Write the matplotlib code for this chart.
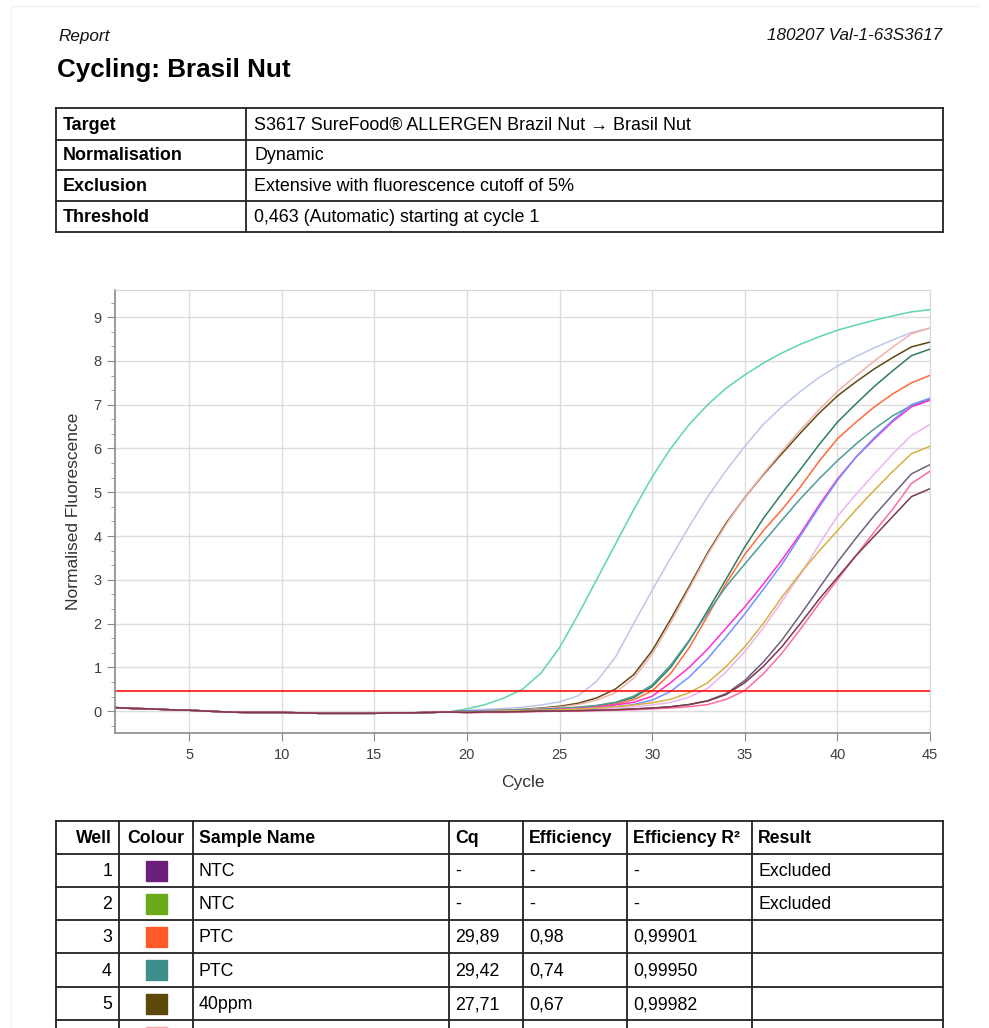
import matplotlib
matplotlib.use("Agg")
from matplotlib import pyplot as plt
from matplotlib.patches import Rectangle
from matplotlib.ticker import MultipleLocator

plt.rcParams['font.family'] = ['Liberation Sans', 'DejaVu Sans']

# ---- data ----
info_keys = ["Target", "Normalisation", "Exclusion", "Threshold"]
info_vals = ["S3617 SureFood\u00ae ALLERGEN Brazil Nut \u2192 Brasil Nut",
             "Dynamic",
             "Extensive with fluorescence cutoff of 5%",
             "0,463 (Automatic) starting at cycle 1"]

threshold = 0.463
cycles = list(range(1, 46))

# cycles 1-19, shared flat baseline
early = [0.08, 0.06, 0.05, 0.03, 0.02, 0.0, -0.02, -0.03, -0.03, -0.03,
         -0.04, -0.05, -0.05, -0.05, -0.05, -0.04, -0.04, -0.03, -0.02]

# cycles 20-45 per curve
mint = [0.05, 0.15, 0.3, 0.5, 0.87, 1.45, 2.2, 3.0, 3.8, 4.6, 5.35, 6.0, 6.55,
        7.0, 7.38, 7.68, 7.95, 8.18, 8.38, 8.55, 8.7, 8.82, 8.93, 9.03, 9.12, 9.17]
lavender = [0.02, 0.04, 0.06, 0.09, 0.14, 0.21, 0.35, 0.68, 1.22, 2.0, 2.76, 3.5, 4.22,
            4.9, 5.5, 6.05, 6.55, 6.95, 7.3, 7.62, 7.88, 8.1, 8.3, 8.48, 8.65, 8.75]
brown = [0.0, 0.01, 0.02, 0.04, 0.07, 0.11, 0.18, 0.3, 0.5, 0.83, 1.38, 2.1, 2.85,
         3.62, 4.3, 4.88, 5.4, 5.88, 6.35, 6.8, 7.2, 7.52, 7.82, 8.08, 8.32, 8.43]
salmon = [-0.01, 0.0, 0.01, 0.03, 0.06, 0.09, 0.15, 0.25, 0.42, 0.75, 1.3, 2.02, 2.8,
          3.58, 4.27, 4.88, 5.42, 5.93, 6.42, 6.88, 7.3, 7.66, 8.0, 8.32, 8.62, 8.75]
dkgreen = [0.0, 0.0, 0.01, 0.02, 0.04, 0.06, 0.08, 0.12, 0.19, 0.31, 0.56, 1.0, 1.6,
           2.3, 3.02, 3.75, 4.4, 4.97, 5.52, 6.08, 6.6, 7.02, 7.42, 7.78, 8.12, 8.27]
orange = [0.0, 0.0, 0.01, 0.01, 0.03, 0.05, 0.07, 0.1, 0.16, 0.26, 0.46, 0.86, 1.45,
          2.18, 2.92, 3.58, 4.12, 4.6, 5.12, 5.7, 6.22, 6.6, 6.95, 7.25, 7.5, 7.67]
teal = [0.0, 0.0, 0.01, 0.02, 0.04, 0.06, 0.09, 0.13, 0.2, 0.34, 0.6, 1.05, 1.62,
        2.25, 2.85, 3.36, 3.86, 4.36, 4.85, 5.3, 5.72, 6.1, 6.45, 6.75, 6.98, 7.12]
magenta = [-0.02, -0.01, 0.0, 0.01, 0.02, 0.04, 0.06, 0.09, 0.14, 0.2, 0.34, 0.65, 1.0,
           1.42, 1.9, 2.38, 2.9, 3.45, 4.05, 4.7, 5.3, 5.8, 6.22, 6.62, 6.95, 7.1]
blue = [0.0, 0.0, 0.01, 0.01, 0.02, 0.03, 0.05, 0.07, 0.1, 0.15, 0.25, 0.45, 0.78,
        1.2, 1.7, 2.22, 2.78, 3.35, 4.0, 4.65, 5.27, 5.8, 6.25, 6.65, 7.0, 7.15]
violet = [-0.03, -0.02, -0.01, 0.0, 0.01, 0.02, 0.03, 0.05, 0.07, 0.1, 0.14, 0.2, 0.32,
          0.52, 0.9, 1.36, 1.9, 2.5, 3.12, 3.8, 4.45, 4.95, 5.42, 5.88, 6.3, 6.55]
yellow = [-0.02, -0.01, 0.0, 0.01, 0.02, 0.03, 0.05, 0.07, 0.1, 0.14, 0.19, 0.27, 0.42,
          0.65, 1.02, 1.47, 2.0, 2.6, 3.15, 3.65, 4.12, 4.6, 5.05, 5.48, 5.88, 6.05]
grey = [-0.03, -0.02, -0.02, -0.01, 0.0, 0.0, 0.01, 0.02, 0.03, 0.05, 0.07, 0.1, 0.15,
        0.24, 0.4, 0.7, 1.12, 1.62, 2.2, 2.8, 3.4, 3.95, 4.47, 4.95, 5.42, 5.63]
pink = [-0.04, -0.03, -0.03, -0.02, -0.01, 0.0, 0.0, 0.01, 0.02, 0.03, 0.05, 0.07, 0.1,
        0.15, 0.27, 0.47, 0.85, 1.32, 1.87, 2.45, 3.0, 3.55, 4.1, 4.62, 5.2, 5.48]
maroon = [-0.03, -0.02, -0.02, -0.01, 0.0, 0.0, 0.01, 0.02, 0.03, 0.05, 0.07, 0.1, 0.15,
          0.23, 0.38, 0.65, 1.02, 1.47, 2.0, 2.55, 3.05, 3.55, 4.0, 4.45, 4.9, 5.08]

curves = [mint, lavender, brown, salmon, dkgreen, orange, teal, magenta, blue,
          violet, yellow, grey, pink, maroon]
curve_colors = ['#5ed6a8', '#bcc6ea', '#5e4a12', '#f2b2aa', '#2e7d5c', '#ff6a3a',
                '#4e9c9a', '#ff30d0', '#7094ff', '#ecb4f2', '#d8b040', '#6e6080',
                '#ff6aa0', '#7a3a4a']

headers = ["Well", "Colour", "Sample Name", "Cq", "Efficiency", "Efficiency R\u00b2", "Result"]
wells = ["1", "2", "3", "4", "5", ""]
well_colors = ['#6d1f7c', '#6aaa18', '#ff5a28', '#3e8e8c', '#5c4808', '#f4a8a8']
samples = ["NTC", "NTC", "PTC", "PTC", "40ppm", ""]
cq = ["-", "-", "29,89", "29,42", "27,71", ""]
eff = ["-", "-", "0,98", "0,74", "0,67", ""]
eff_r2 = ["-", "-", "0,99901", "0,99950", "0,99982", ""]
result = ["Excluded", "Excluded", "", "", "", ""]

# ---- page ----
W, H = 989, 1028
fig = plt.figure(figsize=(W / 100, H / 100), dpi=100)
page = fig.add_axes([0, 0, 1, 1])
page.set_xlim(0, W)
page.set_ylim(H, 0)
page.axis('off')

page.plot([11, 11], [6, H], color='#f3f3f3', lw=1)
page.plot([11, 980], [6, 6], color='#f3f3f3', lw=1)

page.text(58, 36, "Report", fontsize=12.3, style='italic', va='center', color='#111')
page.text(942, 36, "180207 Val-1-63S3617", fontsize=12.3, style='italic',
          va='center', ha='right', color='#111')
page.text(57, 70, "Cycling: Brasil Nut", fontsize=18.7, fontweight='bold',
          va='center', color='black')

# info table
rows_y = [108, 140, 170, 201, 232]
for y in rows_y:
    page.plot([56, 943], [y, y], color='#222', lw=1.3)
for x in [56, 246, 943]:
    page.plot([x, x], [108, 232], color='#222', lw=1.3)
for i in range(4):
    yc = (rows_y[i] + rows_y[i + 1]) / 2 + 1
    page.text(63, yc, info_keys[i], fontsize=12.9, fontweight='bold', va='center')
    page.text(254, yc, info_vals[i], fontsize=12.9, va='center')

# results table
col_x = [56, 119, 193, 449, 523, 627, 752, 943]
row_y = [821, 854, 887, 920, 953, 987, 1020, 1053]
for y in row_y[:-1]:
    page.plot([56, 943], [y, y], color='#222', lw=1.3)
for x in col_x:
    page.plot([x, x], [821, H], color='#222', lw=1.3)

yc = (row_y[0] + row_y[1]) / 2 + 1
page.text(col_x[1] - 7, yc, headers[0], fontsize=12.7, fontweight='bold', va='center', ha='right')
page.text((col_x[1] + col_x[2]) / 2, yc, headers[1], fontsize=12.7, fontweight='bold',
          va='center', ha='center')
for j in range(2, 7):
    page.text(col_x[j] + 6, yc, headers[j], fontsize=12.7, fontweight='bold', va='center')

for i in range(len(wells)):
    yc = (row_y[i + 1] + row_y[i + 2]) / 2 + 1
    page.text(col_x[1] - 7, yc, wells[i], fontsize=12.8, va='center', ha='right')
    xm = (col_x[1] + col_x[2]) / 2
    page.add_patch(Rectangle((xm - 10.5, yc - 11), 21, 20, color=well_colors[i]))
    for j, col in enumerate([samples, cq, eff, eff_r2, result]):
        page.text(col_x[j + 2] + 6, yc, col[i], fontsize=12.8, va='center')

# ---- chart ----
ax = fig.add_axes([115 / W, 1 - 733 / H, 815 / W, 443 / H])
for c, col in zip(curves, curve_colors):
    ax.plot(cycles, early + c, color=col, lw=1.1)
ax.axhline(threshold, color='#ff1010', lw=1.2)

ax.set_xlim(1, 45)
ax.set_ylim(-0.5, 9.62)
ax.set_xticks(range(5, 46, 5))
ax.set_yticks(range(0, 10))
ax.yaxis.set_minor_locator(MultipleLocator(1 / 3))
ax.grid(True, color='#dcdcdc', lw=1)
ax.set_axisbelow(True)
for s in ['top', 'right']:
    ax.spines[s].set_color('#d8d8d8')
for s in ['left', 'bottom']:
    ax.spines[s].set_color('#8a8a8a')
    ax.spines[s].set_linewidth(1.2)
ax.tick_params(axis='both', which='major', length=6, color='#8a8a8a',
               labelsize=10.5, labelcolor='#404040')
ax.tick_params(axis='x', which='major', pad=5)
ax.tick_params(axis='y', which='minor', length=3, color='#8a8a8a')
ax.set_xlabel("Cycle", fontsize=12.5, color='#333', labelpad=9)
ax.set_ylabel("Normalised Fluorescence", fontsize=12.5, color='#333', labelpad=9)

plt.savefig("out.png", dpi=100)
